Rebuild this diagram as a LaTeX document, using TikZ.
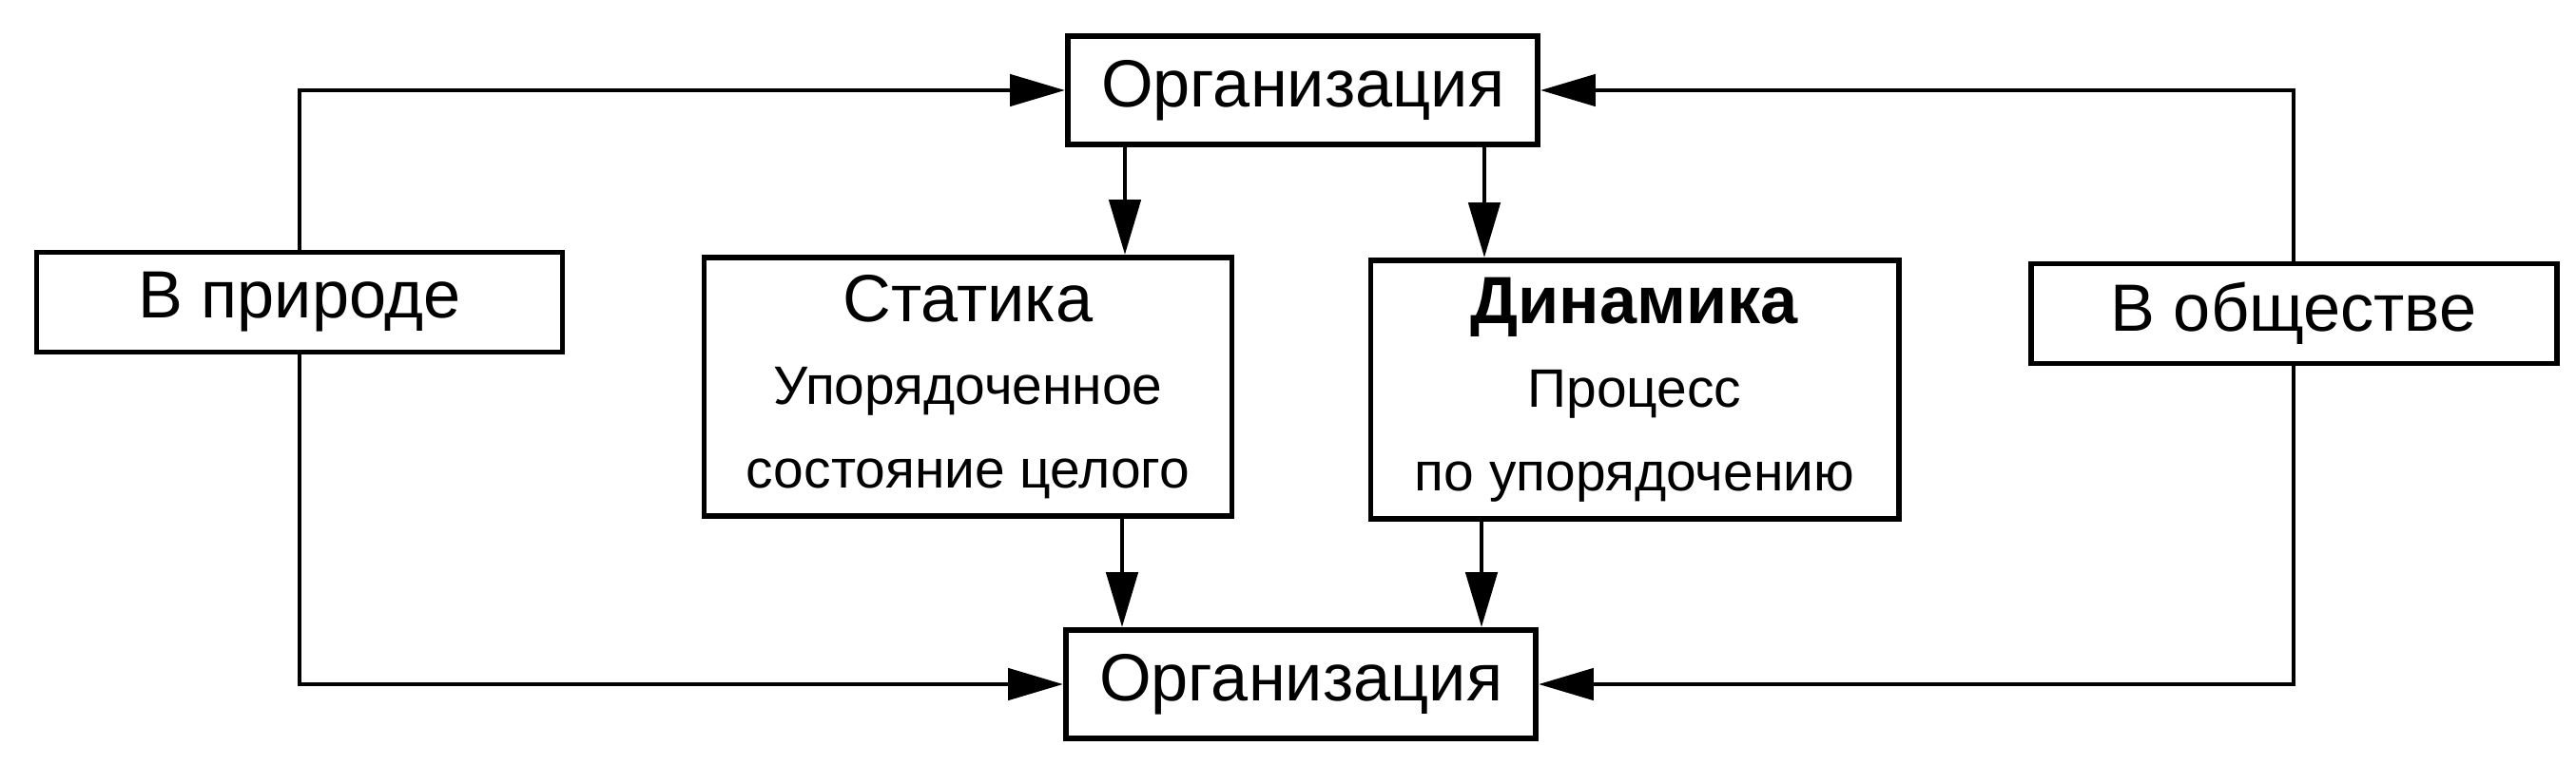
\documentclass[tikz,border=0pt]{standalone}
\usepackage{fontspec}
\setmainfont{Liberation Sans}
\usetikzlibrary{arrows.meta}
\tikzset{
box/.style={draw, line width=1.7pt, inner sep=0pt, align=center, font=\fontsize{20}{25}\selectfont},
onebox/.style={box, minimum width=5.53cm, minimum height=1.05cm},
orgbox/.style={box, minimum width=4.94cm, minimum height=1.14cm},
threebox/.style={box, minimum width=5.55cm, minimum height=2.72cm},
link/.style={line width=1.4pt, -{Triangle[length=5.8mm,width=3.3mm]}}
}
\newcommand{\subline}[1]{{\fontsize{16.2}{25}\selectfont #1}}
\begin{document}
\begin{tikzpicture}
\useasboundingbox (0,0) rectangle (27.09,-8.05);
\node[orgbox] (orgtop) at (13.70,-0.95) {Организация};
\node[orgbox] (orgbot) at (13.68,-7.20) {Организация};
\node[onebox] (nature) at (3.15,-3.18) {В природе};
\node[onebox] (society) at (24.12,-3.30) {В обществе};
\node[threebox] (static) at (10.18,-4.07) {Статика\\\subline{Упорядоченное}\\\subline{состояние целого}};
\node[threebox] (dynamic) at (17.19,-4.10) {\textbf{Динамика}\\\subline{Процесс}\\\subline{по упорядочению}};
\draw[link] (nature.north) |- (orgtop.west);
\draw[link] (nature.south) |- (orgbot.west);
\draw[link] (society.north) |- (orgtop.east);
\draw[link] (society.south) |- (orgbot.east);
\foreach \x/\up/\dn in {11.83/orgtop/static, 11.80/static/orgbot, 15.61/orgtop/dynamic, 15.58/dynamic/orgbot}
{
\draw[link] (\x,0 |- \up.south) -- (\x,0 |- \dn.north);
}
\end{tikzpicture}
\end{document}
